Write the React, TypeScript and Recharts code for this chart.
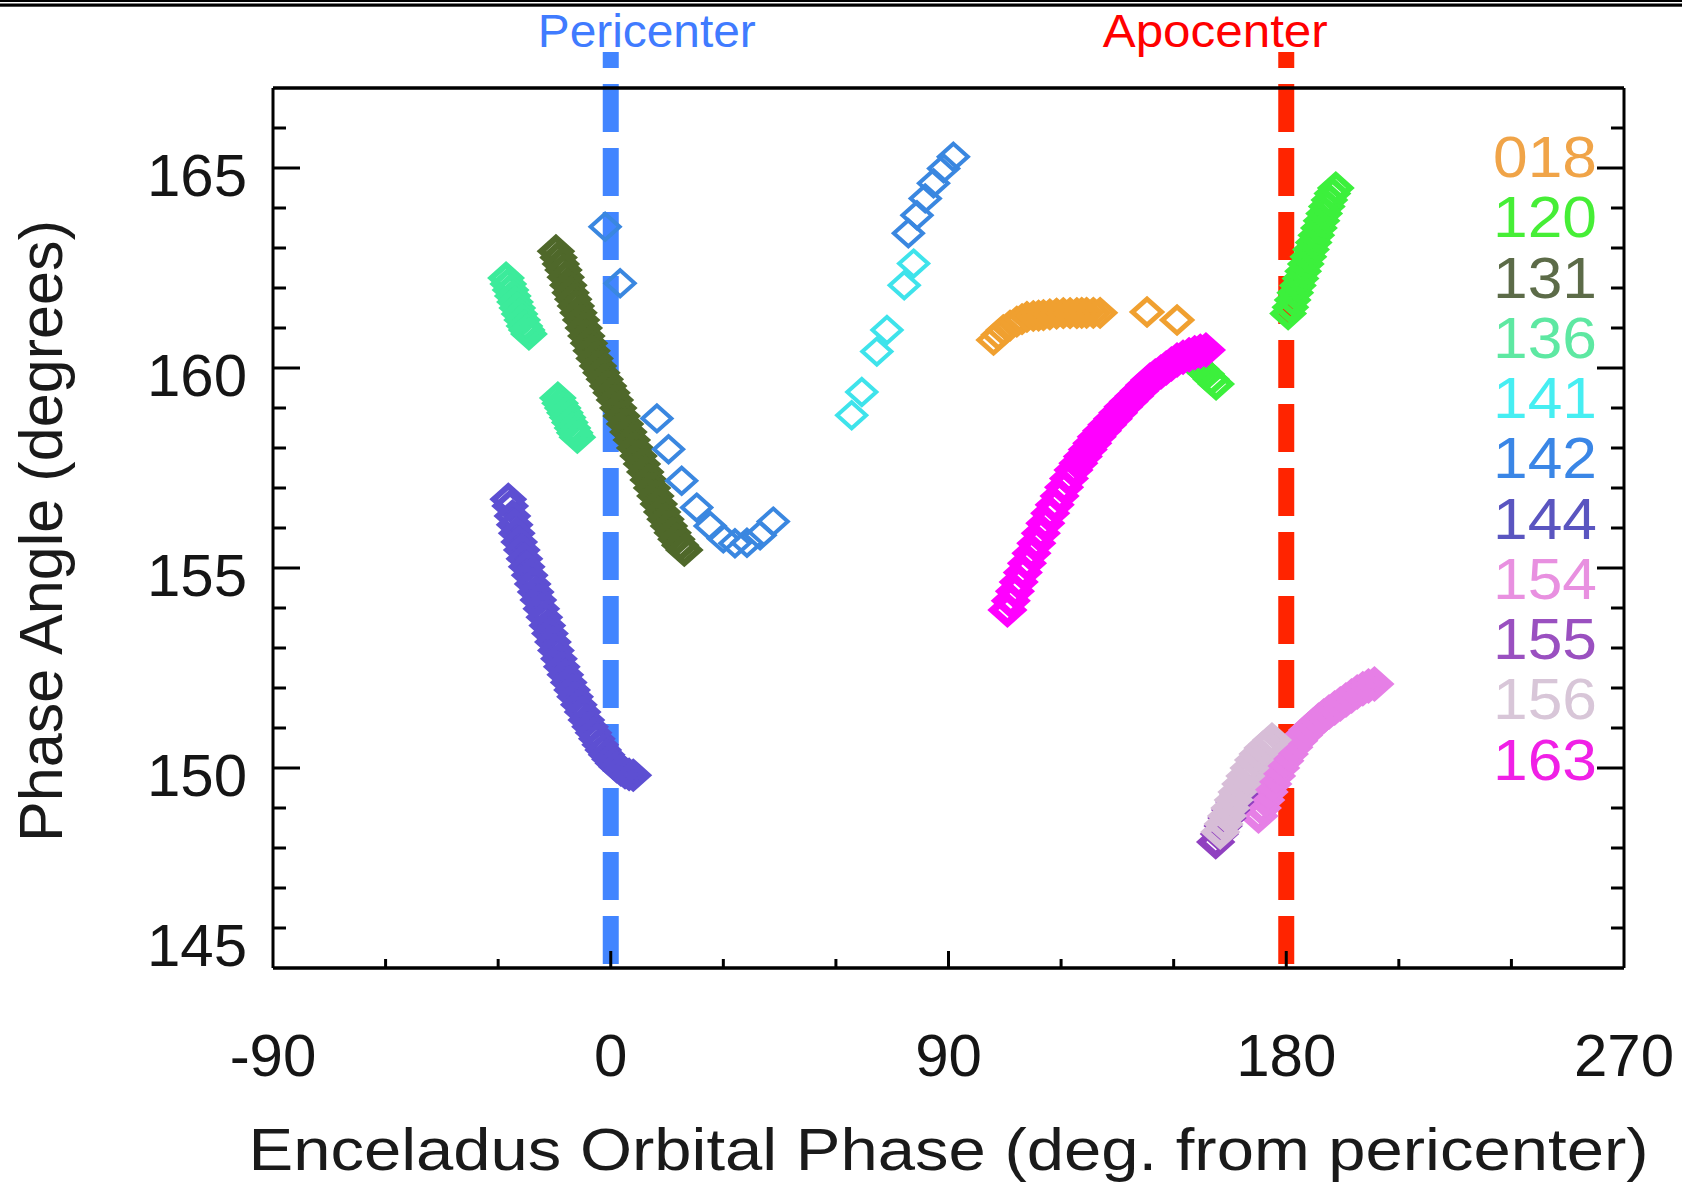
import React from 'react';
import { ScatterChart, Scatter, XAxis, YAxis, ReferenceLine } from 'recharts';

type P = [number, number];

// ---- data (x = orbital phase deg from pericenter, y = phase angle deg) ----
const s018: P[] = [
  [102.0, 160.7], [103.3, 160.83], [104.6, 160.95], [106.4, 161.06], [108.2, 161.16], [109.6, 161.22],
  [110.9, 161.28], [112.6, 161.3], [114.0, 161.31], [115.3, 161.32], [117.0, 161.34], [118.8, 161.36],
  [120.6, 161.37], [122.4, 161.37], [124.2, 161.37], [125.5, 161.38], [126.8, 161.38], [128.6, 161.38],
  [130.4, 161.38], [142.9, 161.4], [150.9, 161.2],
];
const s120: P[] = [
  [154.0, 160.25], [155.6, 160.12], [157.2, 159.98], [158.7, 159.85], [160.0, 159.72], [161.3, 159.6],
  [180.5, 161.36], [181.1, 161.52], [181.7, 161.7], [182.4, 161.88],
  [183.1, 162.06], [183.8, 162.24], [184.5, 162.42], [185.2, 162.6], [185.9, 162.78], [186.6, 162.96],
  [187.3, 163.14], [188.0, 163.32], [188.7, 163.5], [189.4, 163.68], [190.1, 163.86], [190.8, 164.04],
  [191.5, 164.2], [192.3, 164.36], [193.2, 164.5],
];
const s131: P[] = [
  [-14.6, 162.92], [-13.9, 162.76], [-13.3, 162.6], [-12.6, 162.45], [-12.0, 162.27], [-11.3, 162.07],
  [-10.7, 161.88], [-10.0, 161.72], [-9.3, 161.55], [-8.6, 161.38], [-7.9, 161.2], [-7.2, 161.0],
  [-6.5, 160.8], [-5.8, 160.62], [-5.1, 160.43], [-4.3, 160.24], [-3.4, 160.05], [-2.5, 159.88],
  [-1.6, 159.72], [-0.7, 159.55], [0.2, 159.38], [1.1, 159.2], [2.0, 159.0], [2.9, 158.8],
  [3.8, 158.6], [4.7, 158.4], [5.6, 158.2], [6.5, 158.0], [7.4, 157.8], [8.3, 157.6],
  [9.2, 157.4], [10.1, 157.2], [11.0, 157.0], [11.9, 156.8], [12.8, 156.6], [13.7, 156.4],
  [14.6, 156.22], [15.5, 156.05], [16.5, 155.88], [17.5, 155.72], [18.5, 155.57], [19.6, 155.45],
];
const s136: P[] = [
  [-27.9, 162.25], [-27.3, 162.1], [-26.7, 161.95], [-26.1, 161.8], [-25.5, 161.65], [-24.9, 161.5],
  [-24.3, 161.35], [-23.6, 161.2], [-23.0, 161.05], [-22.4, 160.95], [-21.8, 160.85],
  [-14.1, 159.25], [-13.5, 159.12], [-12.8, 159.0], [-12.2, 158.88], [-11.5, 158.76], [-10.9, 158.64],
  [-10.2, 158.5], [-9.6, 158.38], [-8.9, 158.27],
];
const s141: P[] = [
  [64.2, 158.82], [66.9, 159.4], [70.9, 160.41], [73.6, 160.95], [78.2, 162.07], [80.7, 162.61],
];
const s142: P[] = [
  [-1.5, 163.53], [2.5, 162.12], [12.3, 158.74], [15.4, 157.97], [18.9, 157.18], [22.9, 156.51],
  [26.5, 156.05], [30.0, 155.74], [33.1, 155.62], [36.3, 155.63], [39.8, 155.82], [43.3, 156.16],
  [79.3, 163.37], [81.6, 163.82], [83.8, 164.24], [86.0, 164.62], [88.7, 164.99], [91.3, 165.28],
];
const s144: P[] = [
  [-27.3, 156.72], [-26.8, 156.55], [-26.2, 156.3], [-25.6, 156.08], [-25.05, 155.87], [-24.4, 155.65],
  [-23.7, 155.45], [-23.0, 155.23], [-22.4, 155.03], [-21.6, 154.82], [-20.8, 154.6], [-20.0, 154.4],
  [-19.3, 154.2], [-18.5, 153.98], [-17.7, 153.77], [-16.9, 153.56], [-16.2, 153.36], [-15.4, 153.15],
  [-14.6, 152.94], [-13.8, 152.73], [-13.05, 152.53], [-12.1, 152.33], [-11.2, 152.14], [-10.3, 151.95],
  [-9.5, 151.78], [-8.5, 151.58], [-7.5, 151.4], [-6.5, 151.2], [-5.5, 151.03], [-4.6, 150.88],
  [-3.7, 150.73], [-2.8, 150.58], [-2.0, 150.45], [-1.1, 150.33], [-0.2, 150.22], [0.7, 150.12],
  [1.6, 150.03], [2.7, 149.95], [3.8, 149.88], [4.9, 149.84], [6.0, 149.82],
];
const s154: P[] = [
  [172.6, 148.8], [173.5, 149.0], [174.4, 149.2], [175.3, 149.4], [176.3, 149.6], [177.3, 149.8],
  [178.4, 150.0], [179.5, 150.18], [180.7, 150.35], [181.9, 150.52], [183.2, 150.68], [184.5, 150.82],
  [185.8, 150.95], [187.2, 151.07], [188.6, 151.19], [190.0, 151.3], [191.4, 151.4], [192.9, 151.5],
  [194.4, 151.6], [195.9, 151.7], [197.4, 151.8], [198.9, 151.9], [200.4, 151.98], [201.9, 152.05],
  [203.5, 152.1],
];
const s155: P[] = [
  [161.2, 148.15], [162.2, 148.35], [163.2, 148.55], [164.2, 148.75], [165.2, 148.95], [166.3, 149.15],
  [167.4, 149.35],
];
const s156: P[] = [
  [162.4, 148.4], [163.3, 148.6], [164.2, 148.8], [165.1, 149.0], [166.0, 149.2], [167.0, 149.4],
  [168.0, 149.6], [169.1, 149.8], [170.2, 150.0], [171.4, 150.2], [172.6, 150.35], [173.9, 150.5],
  [175.2, 150.6], [176.2, 150.7],
];
const s163: P[] = [
  [105.7, 153.95], [106.6, 154.18], [107.7, 154.42], [108.7, 154.65], [109.8, 154.89], [110.9, 155.12],
  [112.1, 155.37], [113.4, 155.62], [114.6, 155.87], [115.8, 156.12], [117.1, 156.37],
  [118.3, 156.58], [119.6, 156.8], [120.8, 157.02], [122.1, 157.24], [123.3, 157.45],
  [124.6, 157.62], [125.8, 157.79], [127.1, 157.96], [128.3, 158.12], [129.5, 158.28],
  [130.9, 158.43], [132.3, 158.58], [133.8, 158.73], [135.2, 158.88], [136.6, 159.03],
  [138.0, 159.16], [139.5, 159.3], [140.9, 159.43], [142.3, 159.57], [143.7, 159.7],
  [145.1, 159.8], [146.6, 159.9], [148.0, 160.0], [149.4, 160.1], [150.9, 160.2],
  [152.5, 160.27], [154.1, 160.33], [155.6, 160.38], [157.1, 160.42], [158.6, 160.45],
];

const SERIES_NAMES = ['018', '120', '131', '136', '141', '142', '144', '154', '155', '156', '163'];
const SERIES_COLORS = ['#F0A030', '#3CF03C', '#4F682A', '#3CEB9B', '#3EE3EB', '#3A87E0', '#5D4FD2', '#E67FE6', '#9040C0', '#D7BDD7', '#FF00FF'];
const LEGEND_COLORS = ['#F0A448', '#46EE36', '#5C6B48', '#5EE8A2', '#46EEF2', '#3A86E6', '#5A55C0', '#E890E0', '#9A50C0', '#D8C6D8', '#F020E6'];
const SERIES_STROKE = [5, 6, 6.5, 6, 4, 4, 6, 7.5, 7, 7.5, 7.5];
const SERIES_DATA: P[][] = [s018, s120, s131, s136, s141, s142, s144, s154, s155, s156, s163];

const X_TICKS = [-90, -60, -30, 0, 30, 60, 90, 120, 150, 180, 210, 240, 270];
const X_LABELED = [-90, 0, 90, 180, 270];
const Y_TICKS = [145, 146, 147, 148, 149, 150, 151, 152, 153, 154, 155, 156, 157, 158, 159, 160, 161, 162, 163, 164, 165, 166, 167];
const Y_LABELED = [145, 150, 155, 160, 165];
const X_DOMAIN: [number, number] = [-90, 270];
const Y_DOMAIN: [number, number] = [145, 167];

const PERI_X = 0;
const APO_X = 180;

const FONT = "'Liberation Sans', Arial, Helvetica, sans-serif";
const LABEL_FONT = "'Liberation Sans', Arial, sans-serif";

const W = 1682;
const H = 1184;

const diamond = (color: string, sw: number) => (props: any) => {
  const { cx, cy } = props;
  if (cx == null || cy == null) return <g />;
  return (
    <path
      d={`M${cx},${cy - 13}L${cx + 14.5},${cy}L${cx},${cy + 13}L${cx - 14.5},${cy}Z`}
      fill="none"
      stroke={color}
      strokeWidth={sw}
    />
  );
};

const BottomTick = (p: any) => {
  const v = p.payload.value;
  const major = v % 90 === 0;
  return (
    <g>
      {v > X_DOMAIN[0] && v < X_DOMAIN[1] && (
        <line x1={p.x} x2={p.x} y1={p.y} y2={p.y - (major ? 17 : 9)} stroke="#000" strokeWidth={3} />
      )}
      {X_LABELED.includes(v) && (
        <text x={p.x} y={p.y + 108} textAnchor="middle" fontSize={60} fontFamily={FONT} fill="#151515">
          {v}
        </text>
      )}
    </g>
  );
};

const TopTick = (p: any) => {
  const v = p.payload.value;
  const major = v % 90 === 0;
  if (v <= X_DOMAIN[0] || v >= X_DOMAIN[1]) return <g />;
  return <line x1={p.x} x2={p.x} y1={p.y} y2={p.y + (major ? 17 : 9)} stroke="#000" strokeWidth={3} />;
};

const LeftTick = (p: any) => {
  const v = p.payload.value;
  const major = v % 5 === 0;
  return (
    <g>
      {v > Y_DOMAIN[0] && v < Y_DOMAIN[1] && (
        <line x1={p.x} x2={p.x + (major ? 27 : 13)} y1={p.y} y2={p.y} stroke="#000" strokeWidth={3} />
      )}
      {Y_LABELED.includes(v) && (
        <text
          x={p.x - 26}
          y={v === Y_DOMAIN[0] ? p.y - 2.5 : p.y + 28}
          textAnchor="end"
          fontSize={60}
          fontFamily={FONT}
          fill="#151515"
        >
          {v}
        </text>
      )}
    </g>
  );
};

const RightTick = (p: any) => {
  const v = p.payload.value;
  const major = v % 5 === 0;
  if (v <= Y_DOMAIN[0] || v >= Y_DOMAIN[1]) return <g />;
  return <line x1={p.x} x2={p.x - (major ? 27 : 13)} y1={p.y} y2={p.y} stroke="#000" strokeWidth={3} />;
};

const xTitle = (lp: any) => {
  const vb = lp.viewBox || { x: 273, y: 968, width: 1351, height: 216 };
  return (
    <text
      x={vb.x + vb.width / 2}
      y={vb.y + 202}
      textAnchor="middle"
      fontSize={60}
      fontFamily={FONT}
      fill="#1a1a1a"
      textLength={1400}
      lengthAdjust="spacingAndGlyphs"
    >
      Enceladus Orbital Phase (deg. from pericenter)
    </text>
  );
};

const yTitle = (lp: any) => {
  const vb = lp.viewBox || { x: 0, y: 88, width: 273, height: 880 };
  const cx = 62;
  const cy = vb.y + vb.height / 2 + 3;
  return (
    <text
      x={cx}
      y={cy}
      transform={`rotate(-90, ${cx}, ${cy})`}
      textAnchor="middle"
      fontSize={61}
      fontFamily={FONT}
      fill="#1a1a1a"
      textLength={622}
      lengthAdjust="spacingAndGlyphs"
    >
      Phase Angle (degrees)
    </text>
  );
};

const periLabel = (lp: any) => {
  const vb = lp.viewBox || { x: 610, y: 52 };
  return (
    <text x={vb.x + 36} y={vb.y - 5} textAnchor="middle" fontSize={46} fontFamily={LABEL_FONT} fill="#407BFF" textLength={218} lengthAdjust="spacingAndGlyphs">
      Pericenter
    </text>
  );
};

const apoLabel = (lp: any) => {
  const vb = lp.viewBox || { x: 1285, y: 52 };
  return (
    <text x={vb.x - 71} y={vb.y - 5} textAnchor="middle" fontSize={46} fontFamily={LABEL_FONT} fill="#FF0000" textLength={225} lengthAdjust="spacingAndGlyphs">
      Apocenter
    </text>
  );
};

export default function App() {
  return (
    <div style={{ position: 'absolute', left: 0, top: 0, width: W, height: H, background: '#fff', overflow: 'hidden' }}>
      <ScatterChart width={W} height={H} margin={{ top: 0, right: 0, bottom: 0, left: 0 }}>
        <XAxis
          xAxisId={0}
          type="number"
          dataKey="x"
          scale="linear"
          domain={X_DOMAIN}
          allowDataOverflow
          ticks={X_TICKS}
          interval={0}
          height={216}
          tickSize={0}
          tickMargin={0}
          tickLine={false}
          axisLine={{ stroke: '#000', strokeWidth: 3.5 }}
          tick={<BottomTick />}
          label={{ content: xTitle }}
        />
        <XAxis
          xAxisId="top"
          orientation="top"
          type="number"
          scale="linear"
          domain={X_DOMAIN}
          allowDataOverflow
          ticks={X_TICKS}
          interval={0}
          height={88}
          tickSize={0}
          tickMargin={0}
          tickLine={false}
          axisLine={{ stroke: '#000', strokeWidth: 3.5 }}
          tick={<TopTick />}
        />
        <YAxis
          yAxisId={0}
          type="number"
          dataKey="y"
          scale="linear"
          domain={Y_DOMAIN}
          allowDataOverflow
          ticks={Y_TICKS}
          interval={0}
          width={273}
          tickSize={0}
          tickMargin={0}
          tickLine={false}
          axisLine={{ stroke: '#000', strokeWidth: 3 }}
          tick={<LeftTick />}
          label={{ content: yTitle }}
        />
        <YAxis
          yAxisId="right"
          orientation="right"
          type="number"
          scale="linear"
          domain={Y_DOMAIN}
          allowDataOverflow
          ticks={Y_TICKS}
          interval={0}
          width={58}
          tickSize={0}
          tickMargin={0}
          tickLine={false}
          axisLine={{ stroke: '#000', strokeWidth: 3 }}
          tick={<RightTick />}
        />
        {SERIES_DATA.map((pts, i) => (
          <Scatter
            key={SERIES_NAMES[i]}
            name={SERIES_NAMES[i]}
            xAxisId={0}
            yAxisId={0}
            data={pts.map(([x, y]) => ({ x, y }))}
            fill={SERIES_COLORS[i]}
            shape={diamond(SERIES_COLORS[i], SERIES_STROKE[i])}
            isAnimationActive={false}
          />
        ))}
        <ReferenceLine
          xAxisId={0}
          yAxisId={0}
          segment={[{ x: PERI_X, y: 167.9 }, { x: PERI_X, y: 145.1 }]}
          stroke="#4285FF"
          strokeWidth={16}
          strokeDasharray="48 16"
          strokeDashoffset={32}
          ifOverflow="visible"
          label={{ content: periLabel }}
        />
        <ReferenceLine
          xAxisId={0}
          yAxisId={0}
          segment={[{ x: APO_X, y: 167.9 }, { x: APO_X, y: 145.1 }]}
          stroke="#FF2400"
          strokeWidth={16}
          strokeDasharray="48 16"
          strokeDashoffset={32}
          ifOverflow="visible"
          label={{ content: apoLabel }}
        />
      </ScatterChart>
      <svg width={W} height={H} style={{ position: 'absolute', left: 0, top: 0, pointerEvents: 'none' }}>
        <rect x={0} y={0} width={W} height={2} fill="#000" />
        <rect x={0} y={3.5} width={W} height={3.2} fill="#000" />
        {SERIES_NAMES.map((n, i) => (
          <text
            key={n}
            x={1597}
            y={177 + i * 60.27}
            textAnchor="end"
            fontSize={58}
            fontFamily={FONT}
            fill={LEGEND_COLORS[i]}
            textLength={104}
            lengthAdjust="spacingAndGlyphs"
          >
            {n}
          </text>
        ))}
      </svg>
    </div>
  );
}
